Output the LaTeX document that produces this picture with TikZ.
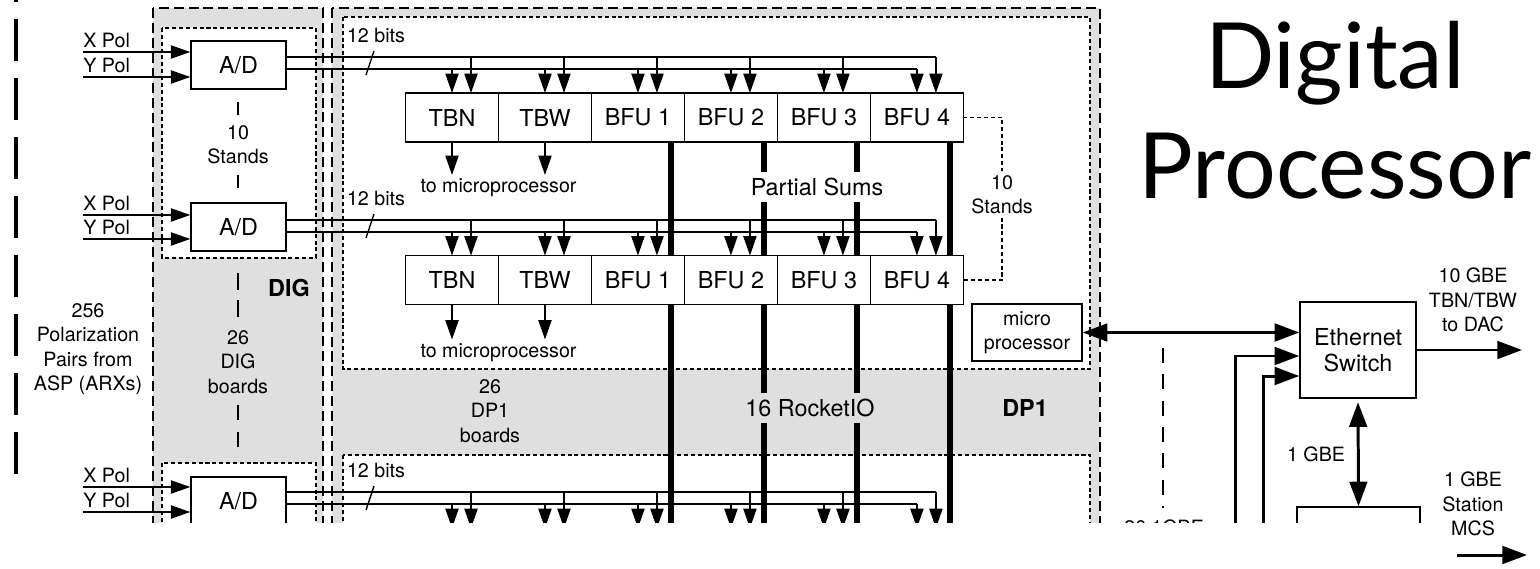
\documentclass[tikz,border=0pt]{standalone}
\usepackage{fontspec}
\setmainfont{TeX Gyre Heros}
\newfontfamily\titlefont{Lato}
\usetikzlibrary{arrows.meta, positioning, calc}

\newcommand{\lblsmall}{\fontsize{11.2}{13.8}\selectfont}
\newcommand{\lblbig}{\fontsize{13.3}{15}\selectfont}

\begin{document}
\begin{tikzpicture}[
  x=0.02cm, y=-0.02cm,
  unit/.style={draw, line width=0.8pt, outer sep=0pt, inner sep=0pt, minimum width=1.86cm, minimum height=0.98cm, font=\lblbig},
  conv/.style={draw, line width=0.8pt, inner sep=0pt, minimum width=1.9cm, minimum height=0.96cm, font=\lblbig},
  box/.style={draw, line width=0.8pt, inner sep=0pt, align=center},
  note/.style={align=center, font=\lblsmall, inner sep=2pt},
  bignote/.style={align=center, font=\lblbig},
  pol/.style={font=\lblsmall, inner sep=0pt},
  board/.style={fill=gray!25, line width=0.8pt, dash pattern=on 5.7pt off 2.8pt},
  slot/.style={fill=white, line width=0.8pt, dash pattern=on 2.3pt off 1.6pt},
  wire/.style={line width=0.8pt},
  tap/.style={wire, -{Triangle[length=11pt, width=7.5pt]}},
  sum/.style={line width=3.4pt},
  link/.style={line width=0.8pt, dash pattern=on 2.3pt off 1.6pt},
  vbar/.style={line width=0.6pt},
  eth/.style={line width=1.7pt},
  ethtip/.style={eth, -{Triangle[length=14pt, width=10pt]}},
  ethboth/.style={eth, {Triangle[length=14pt, width=10pt]}-{Triangle[length=14pt, width=10pt]}}
]
\useasboundingbox (0,0) rectangle (1540,568);

\begin{scope}
\clip (0,0) rectangle (1540,522);

% stand backplane
\draw[line width=2.3pt, dash pattern=on 23.9pt off 9.7pt] (16,-40) -- (16,474);

% boards
\draw[board] (153,8) rectangle (323,600);
\draw[board] (332,8) rectangle (1100,600);
\draw[slot] (162,28) rectangle (316,258);
\draw[slot] (162,463) rectangle (316,600);
\draw[slot] (343,17) rectangle (1090,369);
\draw[slot] (343,455) rectangle (1090,600);

% DIG column
\node[conv] (ad1) at (238.5,65) {A/D};
\node[conv] (ad2) at (238.5,227) {A/D};
\node[conv] (ad3) at (238.5,501) {A/D};

\foreach \st/\ya/\yb in {1/52/77, 2/215/239, 3/487/512} {
  \coordinate (xin\st) at (83,\ya);
  \coordinate (yin\st) at (83,\yb);
  \node[pol, above right=2pt and 0pt of xin\st] (xl\st) {X Pol};
  \node[pol, above right=2pt and 0pt of yin\st] (yl\st) {Y Pol};
  \draw[tap] (xin\st) -- (xin\st -| ad\st.west);
  \draw[tap] (yin\st) -- (yin\st -| ad\st.west);
}

\foreach \ya/\yb in {102/115, 175/188, 273/290, 300/317, 405/420, 432/447}
  \draw[vbar] (238,\ya) -- (238,\yb);

\node[note] (stand1) at (238,145) {10\\Stands};
\node[font=\lblbig\bfseries] (dig) at (289,288) {DIG};
\node[note] (digb) at (238,362) {26\\DIG\\boards};
\node[note] (asp) at (88,349) {256\\Polarization\\Pairs from\\ASP (ARXs)};

% DP1 modules
\node[unit] (ua1) at (452,117.5) {TBN};
\node[unit, right=0pt of ua1] (ua2) {TBW};
\node[unit, right=0pt of ua2] (ua3) {BFU 1};
\node[unit, right=0pt of ua3] (ua4) {BFU 2};
\node[unit, right=0pt of ua4] (ua5) {BFU 3};
\node[unit, right=0pt of ua5] (ua6) {BFU 4};

\node[unit] (ub1) at (452,280) {TBN};
\node[unit, right=0pt of ub1] (ub2) {TBW};
\node[unit, right=0pt of ub2] (ub3) {BFU 1};
\node[unit, right=0pt of ub3] (ub4) {BFU 2};
\node[unit, right=0pt of ub4] (ub5) {BFU 3};
\node[unit, right=0pt of ub5] (ub6) {BFU 4};

\foreach \i in {1,...,6}
  \coordinate (uc\i) at (ub\i.north |- 0,528);
\coordinate (floor) at (0,530);

% 12 bit buses
\foreach \st/\rw/\bt/\bb in {1/a/57/69, 2/b/220/232} {
  \draw[wire] (ad\st.east |- 0,\bt) -- ($(u\rw6.north |- 0,\bt)+(19,0)$);
  \draw[wire] (ad\st.east |- 0,\bb) -- (u\rw6.north |- 0,\bb);
  \foreach \i in {1,...,6} {
    \draw[tap] (u\rw\i.north |- 0,\bb) -- (u\rw\i.north);
    \draw[tap] ($(u\rw\i.north |- 0,\bt)+(19,0)$) -- ($(u\rw\i.north)+(19,0)$);
  }
}
\draw[wire] (ad3.east |- 0,492) -- ($(uc6 |- 0,492)+(19,0)$);
\draw[wire] (ad3.east |- 0,504) -- (uc6 |- 0,504);
\foreach \i in {1,...,6} {
  \draw[tap] (uc\i |- 0,504) -- (uc\i);
  \draw[tap] ($(uc\i |- 0,492)+(19,0)$) -- ($(uc\i)+(19,0)$);
}

\foreach \yb in {75, 238, 510}
  \draw[wire] (366,\yb) -- (374,\yb-24);

\node[note] (bits1) at (376,35) {12 bits};
\node[note] (bits2) at (376,198) {12 bits};
\node[note] (bits3) at (376,470) {12 bits};

% to microprocessor
\draw[tap] (ua1.south) -- ++(0,33) coordinate (mpa1);
\draw[tap] (ua2.south) -- ++(0,33) coordinate (mpa2);
\draw[tap] (ub1.south) -- ++(0,35) coordinate (mpb1);
\draw[tap] (ub2.south) -- ++(0,35) coordinate (mpb2);
\node[note, anchor=north] (tompa) at ($(mpa1)!0.5!(mpa2)$) {to microprocessor};
\node[note, anchor=north] (tompb) at ($(mpb1)!0.5!(mpb2)$) {to microprocessor};

% partial sums
\node[bignote] (psum) at (817,187) {Partial Sums};
\node[bignote] (rio) at (810,408) {16 RocketIO};
\node[font=\lblbig\bfseries] (dp1) at (1025,408) {DP1};
\node[note] (dp1b) at (490,411) {26\\DP1\\boards};

\foreach \i in {3,4,5,6} {
  \coordinate (sa\i) at ($(ua\i.south)+(33,0)$);
  \coordinate (sb\i) at ($(ub\i.south)+(33,0)$);
}
\draw[sum] (sa3) -- (sa3 |- ub3.north);
\draw[sum] (sa4) -- (sa4 |- psum.north);
\draw[sum] (sa4 |- psum.south) -- (sa4 |- ub4.north);
\draw[sum] (sa5) -- (sa5 |- psum.north);
\draw[sum] (sa5 |- psum.south) -- (sa5 |- ub5.north);
\draw[sum] (sa6) -- (sa6 |- ub6.north);
\draw[sum] (sb3) -- (sb3 |- floor);
\draw[sum] (sb4) -- (sb4 |- rio.north);
\draw[sum] (sb4 |- rio.south) -- (sb4 |- floor);
\draw[sum] (sb5) -- (sb5 |- rio.north);
\draw[sum] (sb5 |- rio.south) -- (sb5 |- floor);
\draw[sum] (sb6) -- (sb6 |- floor);

% stands
\node[note] (stand2) at (1002,194.5) {10\\Stands};
\draw[link] (ua6.east) -| (stand2.north);
\draw[link] (stand2.south) |- (ub6.east);

% network
\node[box, font=\lblsmall, minimum width=2.2cm, minimum height=1.14cm] (micro) at (1027,332.5) {micro\\processor};
\node[box, font=\lblbig, minimum width=2.32cm, minimum height=1.92cm] (sw) at (1358,350) {Ethernet\\Switch};
\node[box, minimum width=2.46cm, minimum height=2.12cm] (host) at (1358.5,560) {};

\draw[ethboth] (micro.east) -- (micro.east -| sw.west);
\coordinate (lk1) at (1235,530);
\coordinate (lk2) at (1263,530);
\draw[ethtip] (lk1) |- ($(sw.west)+(0,6)$);
\draw[ethtip] (lk2) |- ($(sw.west)+(0,26)$);
\coordinate (dac) at (1522,350);
\draw[ethtip] (sw.east) -- (dac);
\draw[ethboth, shorten <=2pt] (sw.south) -- (host.north);

\coordinate (gbe1) at (1163,348);
\coordinate (gbe2) at (1163,508);
\draw[wire, dash pattern=on 8.5pt off 6.5pt] (gbe1) -- (gbe2);
\node[note] (gbelbl) at (1164,527) {26 1GBE};

\node[note] (tendac) at (1473,300) {10 GBE\\TBN/TBW\\to DAC};
\node[note] (onegbe) at (1316,454) {1 GBE};
\end{scope}

% below the cut
\node[note] (mcslbl) at (1473,504) {1 GBE\\Station\\MCS};
\coordinate (mcs1) at (1457,555);
\coordinate (mcs2) at (1527,555);
\draw[ethtip] (mcs1) -- (mcs2);

% title
\node[font={\titlefont\fontsize{52}{62}\selectfont}, anchor=base, inner sep=0pt] (ttl1) at (1335,88) {Digital};
\node[font={\titlefont\fontsize{52}{62}\selectfont}, anchor=base, inner sep=0pt] (ttl2) at (1335,198) {Processor};
\end{tikzpicture}
\end{document}
